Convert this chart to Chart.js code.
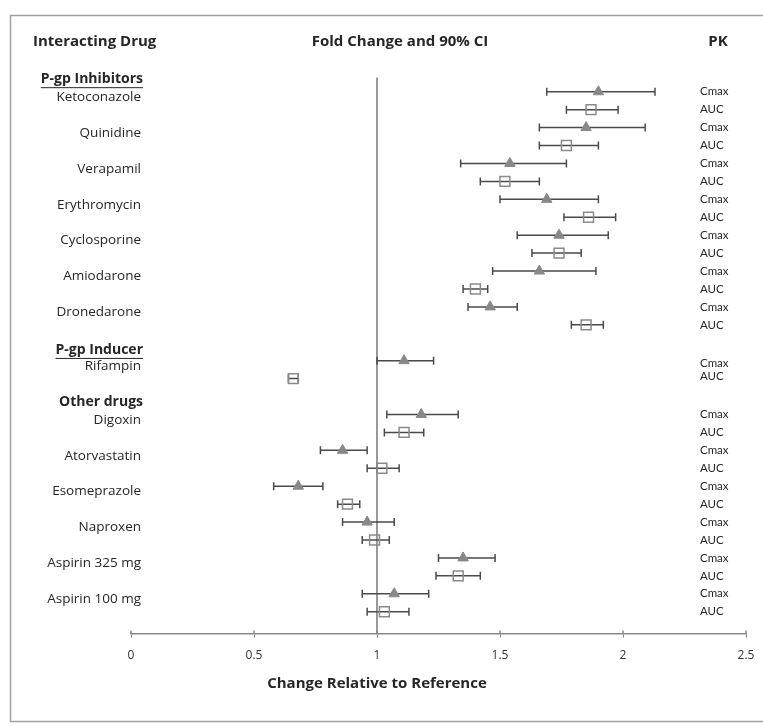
<!DOCTYPE html>
<html>
<head>
<meta charset="utf-8">
<script src="https://cdn.jsdelivr.net/npm/chart.js@4"></script>
<style>
  body { margin: 0; background: #fff; }
  #wrap { width: 763px; height: 726px; position: relative; }
</style>
</head>
<body>
<div id="wrap"><canvas id="myChart"></canvas></div>
<script>
const drugs = ['Ketoconazole', 'Quinidine', 'Verapamil', 'Erythromycin', 'Cyclosporine', 'Amiodarone', 'Dronedarone',
  'Rifampin', 'Digoxin', 'Atorvastatin', 'Esomeprazole', 'Naproxen', 'Aspirin 325 mg', 'Aspirin 100 mg'];
// row slot of each drug's Cmax line (AUC sits one slot below)
const rowSlots = [0, 2, 4, 6, 8, 10, 12, 15, 18, 20, 22, 24, 26, 28];
const groups = ['P-gp Inhibitors', 'P-gp Inducer', 'Other drugs'];
const groupSlots = [-0.7, 14.4, 17.3];

const cmaxGmr  = [1.90, 1.85, 1.54, 1.69, 1.74, 1.66, 1.46, 1.11, 1.18, 0.86, 0.68, 0.96, 1.35, 1.07];
const cmaxLow  = [1.69, 1.66, 1.34, 1.50, 1.57, 1.47, 1.37, 1.00, 1.04, 0.77, 0.58, 0.86, 1.25, 0.94];
const cmaxHigh = [2.13, 2.09, 1.77, 1.90, 1.94, 1.89, 1.57, 1.23, 1.33, 0.96, 0.78, 1.07, 1.48, 1.21];
const aucGmr   = [1.87, 1.77, 1.52, 1.86, 1.74, 1.40, 1.85, 0.66, 1.11, 1.02, 0.88, 0.99, 1.33, 1.03];
const aucLow   = [1.77, 1.66, 1.42, 1.76, 1.63, 1.35, 1.79, 0.64, 1.03, 0.96, 0.84, 0.94, 1.24, 0.96];
const aucHigh  = [1.98, 1.90, 1.66, 1.97, 1.83, 1.45, 1.92, 0.68, 1.19, 1.09, 0.93, 1.05, 1.42, 1.13];

const xTicks = [0, 0.5, 1, 1.5, 2, 2.5];

const FONT = '"Open Sans", Lato, sans-serif';

const cmaxPts = drugs.map((d, i) => ({ x: cmaxGmr[i], y: rowSlots[i], lo: cmaxLow[i], hi: cmaxHigh[i] }));
const aucPts = drugs.map((d, i) => ({ x: aucGmr[i], y: rowSlots[i] + 1, lo: aucLow[i], hi: aucHigh[i] }));

const forestPlugin = {
  id: 'forest',
  beforeDatasetsDraw(chart) {
    const { ctx, scales: { x, y }, chartArea } = chart;
    ctx.save();
    // outer frame
    ctx.strokeStyle = '#a0a0a0';
    ctx.lineWidth = 1.5;
    ctx.strokeRect(10.5, 15.5, 780, 706);
    // reference line at 1
    ctx.strokeStyle = '#777';
    ctx.lineWidth = 1.5;
    ctx.beginPath();
    ctx.moveTo(x.getPixelForValue(1), y.getPixelForValue(-0.8));
    ctx.lineTo(x.getPixelForValue(1), chartArea.bottom);
    ctx.stroke();
    // whiskers
    ctx.strokeStyle = '#4a4a4a';
    ctx.lineWidth = 1.5;
    [cmaxPts, aucPts].forEach(pts => pts.forEach(p => {
      const py = y.getPixelForValue(p.y);
      const x1 = x.getPixelForValue(p.lo), x2 = x.getPixelForValue(p.hi);
      ctx.beginPath();
      ctx.moveTo(x1, py); ctx.lineTo(x2, py);
      ctx.moveTo(x1, py - 4); ctx.lineTo(x1, py + 4);
      ctx.moveTo(x2, py - 4); ctx.lineTo(x2, py + 4);
      ctx.stroke();
    }));
    // tick marks cross the axis slightly above it
    ctx.strokeStyle = '#888';
    xTicks.forEach(v => {
      const px = x.getPixelForValue(v);
      ctx.beginPath();
      ctx.moveTo(px, chartArea.bottom - 3); ctx.lineTo(px, chartArea.bottom);
      ctx.stroke();
    });
    ctx.restore();
  },
  afterDraw(chart) {
    const { ctx, scales: { x, y } } = chart;
    ctx.save();
    ctx.fillStyle = '#262626';
    ctx.textBaseline = 'middle';
    // column headers
    ctx.font = 'bold 15px ' + FONT;
    ctx.textAlign = 'left';
    ctx.fillText('Interacting Drug', 33, 42);
    ctx.textAlign = 'center';
    ctx.fillText('Fold Change and 90% CI', 400, 42);
    ctx.fillText('PK', 718, 42);
    // group headers
    groups.forEach((g, i) => {
      const py = y.getPixelForValue(groupSlots[i]);
      ctx.font = 'bold 14px ' + FONT;
      ctx.textAlign = 'right';
      ctx.fillText(g, 143, py);
      if (i < 2) {
        const w = ctx.measureText(g).width;
        ctx.fillRect(143 - w, py + 8, w, 1);
      }
    });
    // drug names
    ctx.font = '13.5px ' + FONT;
    ctx.textAlign = 'right';
    drugs.forEach((d, i) => ctx.fillText(d, 141, y.getPixelForValue(rowSlots[i] + 0.3)));
    // PK labels
    ctx.font = '11.5px Lato, sans-serif';
    ctx.textAlign = 'left';
    drugs.forEach((d, i) => {
      const c = i === 7 ? rowSlots[i] + 0.15 : rowSlots[i];
      const a = i === 7 ? rowSlots[i] + 0.85 : rowSlots[i] + 1;
      ctx.fillText('Cmax', 700, y.getPixelForValue(c));
      ctx.fillText('AUC', 700, y.getPixelForValue(a));
    });
    // x axis title
    ctx.font = 'bold 15px ' + FONT;
    ctx.textAlign = 'center';
    ctx.fillText('Change Relative to Reference', x.getPixelForValue(1), 684);
    ctx.restore();
  }
};

new Chart(document.getElementById('myChart'), {
  type: 'scatter',
  data: {
    datasets: [
      {
        label: 'Cmax',
        data: cmaxPts,
        pointStyle: 'triangle',
        pointRadius: 6,
        pointBackgroundColor: '#888',
        pointBorderColor: '#888',
        pointBorderWidth: 1
      },
      {
        label: 'AUC',
        data: aucPts,
        pointStyle: 'rect',
        pointRadius: 7,
        pointBackgroundColor: 'rgba(0,0,0,0)',
        pointBorderColor: '#8a8a8a',
        pointBorderWidth: 1.5
      }
    ]
  },
  options: {
    responsive: true,
    maintainAspectRatio: false,
    animation: false,
    layout: { padding: { left: 131, right: 17, top: 20, bottom: 52 } },
    scales: {
      x: {
        type: 'linear',
        min: 0,
        max: 2.5,
        afterBuildTicks: axis => { axis.ticks = xTicks.map(v => ({ value: v })); },
        afterFit: axis => { axis.paddingLeft = 0; axis.paddingRight = 0; },
        ticks: { color: '#333', font: { family: FONT, size: 12 }, padding: 11, callback: v => String(v) },
        grid: { drawOnChartArea: false, tickLength: 4, color: '#888' },
        border: { color: '#888', width: 1.5 }
      },
      y: {
        type: 'linear',
        display: false,
        reverse: true,
        min: -4.0,
        max: 30.22
      }
    },
    plugins: {
      legend: { display: false },
      tooltip: { enabled: false }
    }
  },
  plugins: [forestPlugin]
});
</script>
</body>
</html>
